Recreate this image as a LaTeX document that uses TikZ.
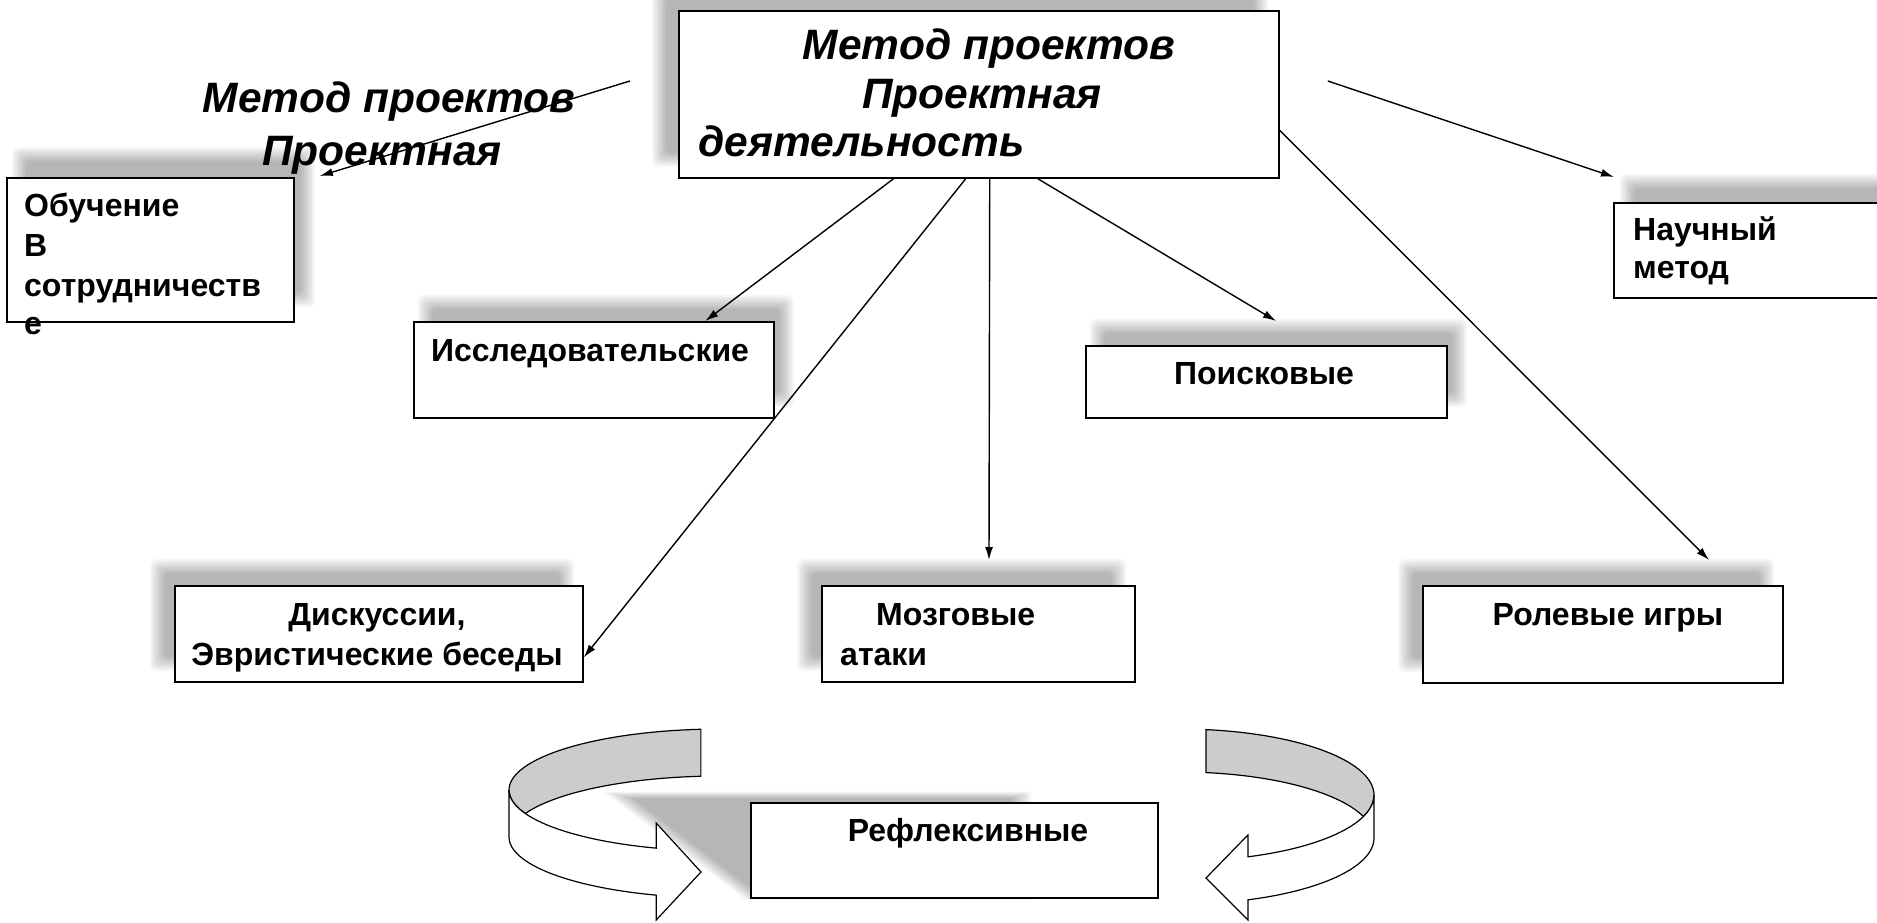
\documentclass[tikz,border=0pt]{standalone}
\usepackage{fontspec}
\setmainfont{Liberation Sans}
\usetikzlibrary{arrows.meta,calc}
\newcommand{\softshade}[4]{%
  \foreach \k in {0,...,9}{%
    \fill[black,opacity=0.032,rounded corners=6pt] ({#1-8+1.6*\k},{#2-8+1.6*\k}) rectangle ({#3+8-1.6*\k},{#4+8-1.6*\k});}}
\begin{document}
\begin{tikzpicture}[x=1pt,y=-1pt,
  box/.style={draw=black, line width=1.8pt, fill=white, inner sep=0pt, anchor=north west},
  btxt/.style={font=\fontsize{32}{38}\selectfont\bfseries, inner sep=0pt},
  ttxt/.style={font=\fontsize{42.5}{50}\selectfont\bfseries\itshape, inner sep=0pt},
  conn/.style={line width=1.4pt, -{Latex[length=13pt,width=8pt]}},
  ring/.style={draw=black, line width=1.2pt}]
\useasboundingbox (0,0) rectangle (1877,923);
\clip (0,0) rectangle (1877,923);
\fill[white] (0,0) rectangle (1877,923);
% shadows
\softshade{660}{-8}{1260}{159}
\softshade{20}{155}{307}{299}
\softshade{1628}{182}{1915}{277}
\softshade{426}{303}{786}{399}
\softshade{1098}{327}{1459}{399}
\softshade{158}{567}{566}{663}
\softshade{805}{567}{1118}{663}
\softshade{1406}{567}{1766}{664}
\foreach \k in {0,...,9}{%
  \fill[black,opacity=0.032, scale around={1.06-0.014*\k:(860,850)}] (618,795) -- (1022,795) -- (1022,897) -- (752,897) -- cycle;}
% boxes
\node[box, minimum width=600pt, minimum height=167pt] (main) at (678,10) {};
\node[box, minimum width=287pt, minimum height=144pt] (obuch) at (6,177) {};
\node[box, minimum width=300pt, minimum height=95pt] (nauch) at (1613,202) {};
\node[box, minimum width=360pt, minimum height=96pt] (res) at (413,321) {};
\node[box, minimum width=361pt, minimum height=72pt] (pois) at (1085,345) {};
\node[box, minimum width=408pt, minimum height=96pt] (disc) at (174,585) {};
\node[box, minimum width=313pt, minimum height=96pt] (moz) at (821,585) {};
\node[box, minimum width=360pt, minimum height=97pt] (rol) at (1422,585) {};
\node[box, minimum width=407pt, minimum height=95pt] (refl) at (750,802) {};
% texts
\node[ttxt, anchor=base] (m1) at (989,60) {Метод проектов};
\node[ttxt, anchor=base] (m2) at (982,109) {Проектная};
\node[ttxt, anchor=base west] (m3) at (698,157) {деятельность};
\node[ttxt, anchor=base] (f1) at (389,113) {Метод проектов};
\node[ttxt, anchor=base] (f2) at (382,165) {Проектная};
\node[btxt, anchor=base west] (o1) at (24,216) {Обучение};
\node[btxt, anchor=base west] (o2) at (24,256) {В};
\node[btxt, anchor=base west] (o3) at (24,296) {сотрудничеств};
\node[btxt, anchor=base west] (o4) at (24,334) {е};
\node[btxt, anchor=base west] (n1) at (1633,240) {Научный};
\node[btxt, anchor=base west] (n2) at (1633,278) {метод};
\node[btxt, anchor=base] (r1) at (590,361) {Исследовательские};
\node[btxt, anchor=base] (p1) at (1264,384) {Поисковые};
\node[btxt, anchor=base] (d1) at (377,625) {Дискуссии,};
\node[btxt, anchor=base] (d2) at (377,665) {Эвристические беседы};
\node[btxt, anchor=base west] (z1) at (876,625) {Мозговые};
\node[btxt, anchor=base west] (z2) at (840,665) {атаки};
\node[btxt, anchor=base] (l1) at (1608,625) {Ролевые игры};
\node[btxt, anchor=base] (x1) at (968,841) {Рефлексивные};
% connectors
\draw[conn] ($(main.south west)!0.358!(main.south east)$) -- ($(res.north west)!0.808!(res.north east)$);
\draw[conn] ($(main.south west)!0.478!(main.south east)$) -- ($(disc.north east)!0.74!(disc.south east)$);
\draw[conn] ($(main.south west)!0.518!(main.south east)$) -- ($(moz.north west)+(168,-25)$);
\draw[conn] ($(main.south west)!0.598!(main.south east)$) -- ($(pois.north west)+(191,-24)$);
\draw[conn] ($(main.north east)!0.713!(main.south east)$) -- ($(rol.north west)+(287,-25)$);
\coordinate (ns) at ($(main.north east)+(48,71)$);
\draw[conn] (ns) -- ($(nauch.north west)+(1,-25)$);
\coordinate (fs) at ($(main.north west)+(-48,71)$);
\draw[conn] (fs) -- ($(obuch.north east)+(25,-1)$);
% left ring arrow
\filldraw[ring, fill=black!20] plot[domain=95.2:202.5, samples=40, variable=\t] ({720+211*cos(\t)},{790-61*sin(\t)}) -- plot[domain=157.5:95.2, samples=30, variable=\t] ({720+211*cos(\t)},{837-61*sin(\t)}) -- cycle;
\filldraw[ring, fill=white] plot[domain=180:252.4, samples=30, variable=\t] ({720+211*cos(\t)},{790-61*sin(\t)}) -- (656.2,823) -- (701,872) -- (656.2,920) -- plot[domain=252.4:180, samples=30, variable=\t] ({720+211*cos(\t)},{837-61*sin(\t)}) -- cycle;
% right ring arrow
\filldraw[ring, fill=black!20] plot[domain=82.3:-19.1, samples=40, variable=\t] ({1180+194*cos(\t)},{795-66*sin(\t)}) -- plot[domain=19.1:82.3, samples=30, variable=\t] ({1180+194*cos(\t)},{838-66*sin(\t)}) -- cycle;
\filldraw[ring, fill=white] plot[domain=0:-69.5, samples=30, variable=\t] ({1180+194*cos(\t)},{795-66*sin(\t)}) -- (1247.9,835) -- (1206,878) -- (1247.9,920) -- plot[domain=-69.5:0, samples=30, variable=\t] ({1180+194*cos(\t)},{838-66*sin(\t)}) -- cycle;
\end{tikzpicture}
\end{document}
